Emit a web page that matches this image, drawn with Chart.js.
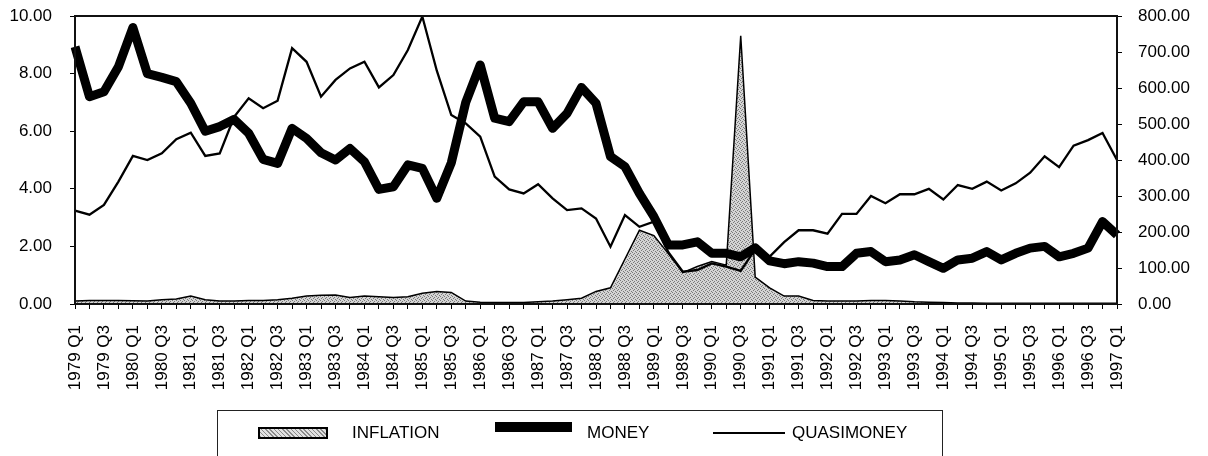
<!DOCTYPE html>
<html>
<head>
<meta charset="utf-8">
<script src="https://cdn.jsdelivr.net/npm/chart.js@4.4.1/dist/chart.umd.min.js"></script>
<style>
  html, body { margin: 0; padding: 0; background: #fff; }
  #wrap { position: relative; width: 1208px; height: 456px; overflow: hidden; }
  #c { position: absolute; left: 0; top: 0; }
  #legend { position: absolute; left: 217px; top: 410px; width: 726px; height: 70px;
            border: 1px solid #222; box-sizing: border-box; font-family: "Liberation Sans", Arial, sans-serif;
            font-size: 17px; color: #000; }
  .sw, .tx { position: absolute; }
  .tx { top: 12px; line-height: 20px; }
</style>
</head>
<body>
<div id="wrap">
  <canvas id="c" width="1208" height="456"></canvas>
  <div id="legend">
    <div class="sw" style="left:40px; top:16px; width:66px; height:8px; border:2px solid #000;
         background: repeating-linear-gradient(45deg, #8c8c8c 0 1px, #e2e2e2 1px 3px);"></div>
    <div class="tx" style="left:134px;">INFLATION</div>
    <div class="sw" style="left:277px; top:11px; width:77px; height:10px; background:#000;"></div>
    <div class="tx" style="left:369px;">MONEY</div>
    <div class="sw" style="left:495px; top:21px; width:72px; height:2px; background:#000;"></div>
    <div class="tx" style="left:574px;">QUASIMONEY</div>
  </div>
</div>
<script>
const quarters = [
  '1979 Q1','1979 Q2','1979 Q3','1979 Q4','1980 Q1','1980 Q2','1980 Q3','1980 Q4',
  '1981 Q1','1981 Q2','1981 Q3','1981 Q4','1982 Q1','1982 Q2','1982 Q3','1982 Q4',
  '1983 Q1','1983 Q2','1983 Q3','1983 Q4','1984 Q1','1984 Q2','1984 Q3','1984 Q4',
  '1985 Q1','1985 Q2','1985 Q3','1985 Q4','1986 Q1','1986 Q2','1986 Q3','1986 Q4',
  '1987 Q1','1987 Q2','1987 Q3','1987 Q4','1988 Q1','1988 Q2','1988 Q3','1988 Q4',
  '1989 Q1','1989 Q2','1989 Q3','1989 Q4','1990 Q1','1990 Q2','1990 Q3','1990 Q4',
  '1991 Q1','1991 Q2','1991 Q3','1991 Q4','1992 Q1','1992 Q2','1992 Q3','1992 Q4',
  '1993 Q1','1993 Q2','1993 Q3','1993 Q4','1994 Q1','1994 Q2','1994 Q3','1994 Q4',
  '1995 Q1','1995 Q2','1995 Q3','1995 Q4','1996 Q1','1996 Q2','1996 Q3','1996 Q4',
  '1997 Q1'
];

// left axis (0-10)
const money = [
  8.93, 7.2, 7.37, 8.24, 9.6, 8.0, 7.87, 7.72, 6.97, 6.0, 6.16, 6.41, 5.93, 5.02, 4.88, 6.1,
  5.75, 5.25, 5.0, 5.4, 4.94, 3.98, 4.07, 4.83,
  4.71, 3.67, 4.9, 7.0, 8.3, 6.45, 6.33, 7.02, 7.02, 6.1, 6.62, 7.52, 6.97, 5.12, 4.77, 3.84,
  3.03, 2.05, 2.05, 2.16, 1.76, 1.76, 1.64,
  1.95, 1.5, 1.4,
  1.47, 1.42, 1.30, 1.30, 1.76, 1.82, 1.47, 1.53, 1.71, 1.47, 1.24, 1.53, 1.59, 1.82, 1.53,
  1.76, 1.94, 2.0, 1.64, 1.76, 1.94, 2.86, 2.40
];
const quasimoney = [
  3.24, 3.1, 3.44, 4.25, 5.14, 5.0, 5.23, 5.72, 5.95, 5.14, 5.23, 6.5, 7.14, 6.8, 7.06, 8.88,
  8.41, 7.2, 7.78, 8.18, 8.41, 7.52, 7.95, 8.82, 9.98,
  8.1, 6.56, 6.27, 5.81, 4.42, 3.98, 3.84, 4.16, 3.67, 3.26, 3.32, 2.97, 1.99, 3.09, 2.68,
  2.86, 1.8, 1.12, 1.18, 1.41, 1.3, 1.15,
  1.9, 1.65, 2.15,
  2.56, 2.56, 2.44, 3.13, 3.13, 3.75, 3.5, 3.81, 3.81, 4.0, 3.63, 4.13, 4.0, 4.25, 3.94,
  4.19, 4.56, 5.13, 4.75, 5.5, 5.69, 5.94, 5.0
];
// right axis (0-800)
const inflation = [
  8, 10, 10, 10, 9, 8, 12, 14, 22, 12, 8, 8, 10, 10, 12, 16, 22, 24, 25, 18, 22, 20, 18, 20,
  30, 35, 32, 8, 5, 4, 4, 4, 6, 8, 12, 16, 35, 45, 125, 205, 190, 140, 87, 104, 118, 108, 745,
  75, 45, 22,
  22, 10, 8, 8, 8, 10, 10, 8, 6, 5, 4, 3, 3, 2, 2, 2, 2, 2, 2, 2, 2, 2, 2
];

const leftTicks = { min: 0, max: 10, step: 2 };
const rightTicks = { min: 0, max: 800, step: 100 };

// stippled gray pattern for the inflation area
function makePattern() {
  const p = document.createElement('canvas');
  p.width = 4; p.height = 4;
  const g = p.getContext('2d');
  g.fillStyle = '#d4d4d4';
  g.fillRect(0, 0, 4, 4);
  g.fillStyle = '#7a7a7a';
  g.fillRect(0, 0, 1, 1); g.fillRect(2, 1, 1, 1); g.fillRect(1, 2, 1, 1); g.fillRect(3, 3, 1, 1);
  return g.createPattern(p, 'repeat');
}

const FONT = { family: '"Liberation Sans", Arial, sans-serif', size: 17 };

const boxPlugin = {
  id: 'box',
  afterDatasetsDraw(chart) {
    const a = chart.chartArea, ctx = chart.ctx;
    ctx.save();
    ctx.strokeStyle = '#111';
    ctx.lineWidth = 2;
    ctx.strokeRect(a.left, a.top, a.right - a.left, a.bottom - a.top);
    ctx.restore();
  }
};

function fixV(width) {
  return function (s) { s.width = width; s.paddingTop = 0; s.paddingBottom = 0; };
}

new Chart(document.getElementById('c'), {
  type: 'line',
  data: {
    labels: quarters,
    datasets: [
      { label: 'MONEY', data: money, yAxisID: 'y', borderColor: '#000', borderWidth: 9,
        pointRadius: 0, tension: 0, fill: false, borderJoinStyle: 'round', borderCapStyle: 'butt' },
      { label: 'QUASIMONEY', data: quasimoney, yAxisID: 'y', borderColor: '#000', borderWidth: 2.3,
        pointRadius: 0, tension: 0, fill: false },
      { label: 'INFLATION', data: inflation, yAxisID: 'y1', borderColor: '#000', borderWidth: 1.5,
        backgroundColor: makePattern(), pointRadius: 0, tension: 0, fill: 'origin' }
    ]
  },
  options: {
    responsive: false,
    animation: false,
    events: [],
    layout: { padding: { top: 16, left: 0, right: 0, bottom: 0 } },
    plugins: { legend: { display: false }, tooltip: { enabled: false } },
    scales: {
      x: {
        type: 'category',
        offset: false,
        border: { display: false },
        grid: { display: true, drawOnChartArea: false, drawTicks: true, tickLength: 5, color: '#000', lineWidth: 1 },
        ticks: {
          autoSkip: false, maxRotation: 90, minRotation: 90, padding: 16, color: '#000', font: FONT,
          callback: function (v, i) { return i % 2 === 0 ? quarters[i] : ''; }
        },
        afterFit: function (s) { s.height = 152; s.paddingLeft = 0; s.paddingRight = 0; }
      },
      y: {
        position: 'left',
        min: leftTicks.min, max: leftTicks.max,
        border: { display: false },
        grid: { display: true, drawOnChartArea: false, drawTicks: true, tickLength: 5, color: '#000' },
        ticks: { stepSize: leftTicks.step, padding: 18, color: '#000', font: FONT,
                 callback: function (v) { return Number(v).toFixed(2); } },
        afterFit: fixV(75)
      },
      y1: {
        position: 'right',
        min: rightTicks.min, max: rightTicks.max,
        border: { display: false },
        grid: { display: true, drawOnChartArea: false, drawTicks: true, tickLength: 5, color: '#000' },
        ticks: { stepSize: rightTicks.step, padding: 16, color: '#000', font: FONT,
                 callback: function (v) { return Number(v).toFixed(2); } },
        afterFit: fixV(91)
      }
    }
  },
  plugins: [boxPlugin]
});
</script>
</body>
</html>
